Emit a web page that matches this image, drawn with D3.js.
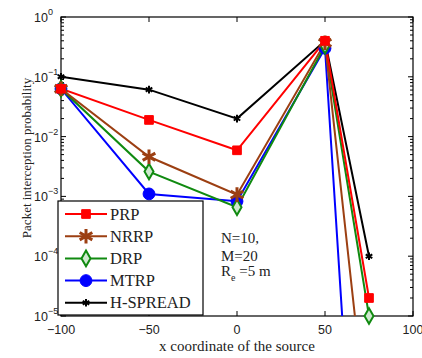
<!DOCTYPE html>
<html lang="en">
<head>
  <meta charset="UTF-8">
  <title>Packet interception probability</title>
  <style>
    body { margin: 0; background: #fff; }
    svg text { fill: #222; }
    .tick-label { font-family: "Liberation Sans", Arial, sans-serif; font-size: 12.5px; }
    .serif { font-family: "Liberation Serif", "Times New Roman", serif; }
  </style>
</head>
<body>
  <div id="chart"></div>

  <script src="https://d3js.org/d3.v7.min.js"></script>
  <script>
    const xs = [-100, -50, 0, 50, 75];
    const prp = [0.063, 0.019, 0.0059, 0.40, 2e-5];
    const nrrp = [0.063, 0.0046, 0.00107, 0.37, 7e-8];
    const drp = [0.063, 0.0026, 0.00066, 0.33, 1e-5];
    const mtrp = [0.063, 0.0011, 0.00083, 0.30, 1e-12];
    const hspread = [0.1, 0.061, 0.02, 0.40, 1e-4];
    const xTicks = [-100, -50, 0, 50, 100];
    const yTicks = [0, -1, -2, -3, -4, -5];

    const series = [
      { name: "PRP", values: prp, color: "#ff0000", marker: "square" },
      { name: "NRRP", values: nrrp, color: "#9c3f12", marker: "star" },
      { name: "DRP", values: drp, color: "#108a10", marker: "diamond" },
      { name: "MTRP", values: mtrp, color: "#0000ff", marker: "circle" },
      { name: "H-SPREAD", values: hspread, color: "#000000", marker: "cross" }
    ];

    const W = 422, H = 358;
    const pLeft = 61, pRight = 413, pTop = 17, pBottom = 316;

    const svg = d3.select("#chart").append("svg")
      .attr("width", W).attr("height", H);

    const x = d3.scaleLinear().domain([-100, 100]).range([pLeft, pRight]);
    const y = d3.scaleLog().domain([1e-5, 1]).range([pBottom, pTop]);

    svg.append("clipPath").attr("id", "clip")
      .append("rect").attr("x", pLeft).attr("y", pTop)
      .attr("width", pRight - pLeft).attr("height", pBottom - pTop);

    // box
    svg.append("rect").attr("x", pLeft).attr("y", pTop)
      .attr("width", pRight - pLeft).attr("height", pBottom - pTop)
      .attr("fill", "none").attr("stroke", "#000").attr("stroke-width", 1.2);

    // x ticks (inward, top and bottom)
    xTicks.forEach(t => {
      const px = x(t);
      svg.append("line").attr("x1", px).attr("x2", px).attr("y1", pBottom).attr("y2", pBottom - 5).attr("stroke", "#000");
      svg.append("line").attr("x1", px).attr("x2", px).attr("y1", pTop).attr("y2", pTop + 5).attr("stroke", "#000");
      svg.append("text").attr("class", "tick-label").attr("x", px).attr("y", pBottom + 18)
        .attr("text-anchor", "middle").text(t < 0 ? "\u2212" + Math.abs(t) : t);
    });

    // y ticks, major + minor (log)
    yTicks.forEach(e => {
      const py = y(Math.pow(10, e));
      svg.append("line").attr("x1", pLeft).attr("x2", pLeft + 5).attr("y1", py).attr("y2", py).attr("stroke", "#000");
      svg.append("line").attr("x1", pRight).attr("x2", pRight - 5).attr("y1", py).attr("y2", py).attr("stroke", "#000");
      const tx = svg.append("text").attr("class", "tick-label").attr("x", 34).attr("y", py + 5)
        .text("10");
      tx.append("tspan").attr("dy", -7).attr("font-size", 9).text(e === 0 ? "0" : "\u2212" + Math.abs(e));
      if (e > -5) {
        for (let m = 2; m <= 9; m++) {
          const my = y(m * Math.pow(10, e - 1));
          svg.append("line").attr("x1", pLeft).attr("x2", pLeft + 3).attr("y1", my).attr("y2", my).attr("stroke", "#000");
          svg.append("line").attr("x1", pRight).attr("x2", pRight - 3).attr("y1", my).attr("y2", my).attr("stroke", "#000");
        }
      }
    });

    // axis labels
    svg.append("text").attr("class", "serif").attr("font-size", 15)
      .attr("x", x(0)).attr("y", 351).attr("text-anchor", "middle")
      .text("x coordinate of the source");
    svg.append("text").attr("class", "serif").attr("font-size", 13)
      .attr("transform", `translate(31, 158) rotate(-90)`)
      .attr("text-anchor", "middle")
      .text("Packet interception probability");

    const symbols = {
      square: d3.symbol().type(d3.symbolSquare).size(75),
      star: d3.symbol().type(d3.symbolAsterisk).size(150),
      diamond: d3.symbol().type(d3.symbolDiamond).size(70),
      circle: d3.symbol().type(d3.symbolCircle).size(110),
      cross: d3.symbol().type(d3.symbolAsterisk).size(40)
    };

    function drawMarker(g, s, px, py) {
      const p = g.append("path").attr("d", symbols[s.marker]())
        .attr("transform", `translate(${px},${py})`)
        .attr("stroke", s.color);
      if (s.marker === "star") p.attr("fill", "none").attr("stroke-width", 3);
      else if (s.marker === "diamond") p.attr("fill", "#cfe8cf").attr("stroke-width", 2);
      else if (s.marker === "cross") p.attr("fill", "none").attr("stroke-width", 2);
      else p.attr("fill", s.color).attr("stroke-width", 1);
    }

    const line = d3.line().x((d, i) => x(xs[i])).y(d => y(d));
    const plot = svg.append("g").attr("clip-path", "url(#clip)");
    const markers = svg.append("g");

    series.slice().reverse().forEach(s => {
      plot.append("path").datum(s.values).attr("d", line)
        .attr("fill", "none").attr("stroke", s.color).attr("stroke-width", 2);
    });
    series.slice().reverse().forEach(s => {
      s.values.forEach((v, i) => {
        if (v >= 1e-5) drawMarker(markers, s, x(xs[i]), y(v));
      });
    });

    // legend
    const lg = svg.append("g");
    lg.append("rect").attr("x", 58).attr("y", 201).attr("width", 145).attr("height", 114)
      .attr("fill", "#fff").attr("stroke", "#000").attr("stroke-width", 1.2);
    series.forEach((s, i) => {
      const ly = 214 + i * 22.2;
      lg.append("line").attr("x1", 65).attr("x2", 107).attr("y1", ly).attr("y2", ly)
        .attr("stroke", s.color).attr("stroke-width", 2);
      drawMarker(lg, s, 86, ly);
      lg.append("text").attr("class", "serif").attr("font-size", 16.5)
        .attr("x", 110).attr("y", ly + 5.5).text(s.name);
    });

    // annotation
    const ann = svg.append("g").attr("class", "serif").attr("font-size", 15);
    ann.append("text").attr("x", 221).attr("y", 243).text("N=10,");
    ann.append("text").attr("x", 221).attr("y", 261).text("M=20");
    const r = ann.append("text").attr("x", 221).attr("y", 276).text("R");
    r.append("tspan").attr("font-size", 10).attr("dy", 5).text("e");
    r.append("tspan").attr("dy", -5).text(" =5 m");
  </script>
</body>
</html>
